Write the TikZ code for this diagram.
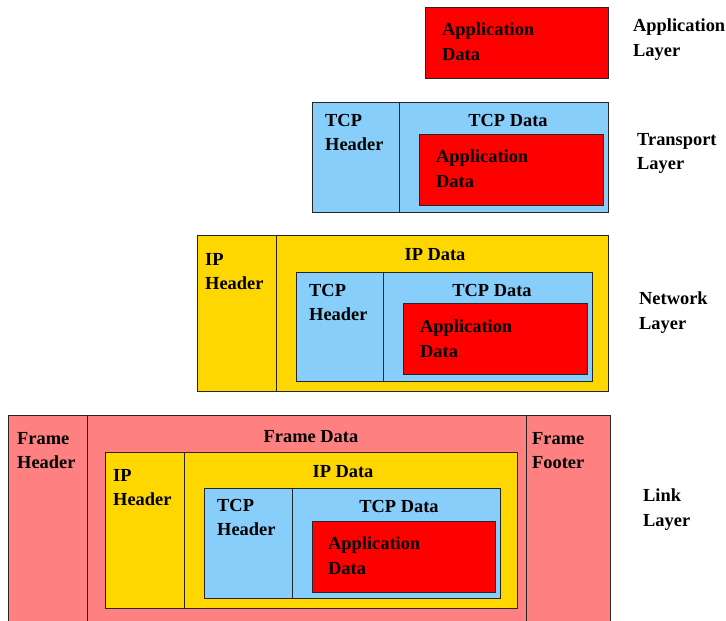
\documentclass[tikz,border=0pt]{standalone}
\usepackage{fontspec}
\setmainfont{Liberation Serif}
\definecolor{appred}{RGB}{255,0,0}
\definecolor{tcpblue}{RGB}{135,206,250}
\definecolor{ipgold}{RGB}{255,215,0}
\definecolor{framepink}{RGB}{255,128,128}

\begin{document}
\begin{tikzpicture}[x=1pt,y=-1pt,
    box/.style={draw=black!85, line width=0.9pt},
    lbl/.style={inner sep=0pt, align=left, anchor=north west,
        font=\bfseries\fontsize{18.4}{24.5}\selectfont},
    ctr/.style={lbl, anchor=north, align=center}]
    \clip (0,0) rectangle (726,621);

    % application layer
    \draw[box, fill=appred] (425,7) rectangle (608,78);
    \node[lbl] (appA) at (442,23) {Application\\Data};
    \node[lbl] (appLayer) at (633,19) {Application\\Layer};

    % transport layer
    \draw[box, fill=tcpblue] (312,102) rectangle (608,212);
    \draw[box] (399,102) -- (399,212);
    \node[lbl] (tcphT) at (325,114) {TCP\\Header};
    \node[ctr] (tcpdT) at (508,114) {TCP Data};
    \draw[box, fill=appred] (419,134) rectangle (603,205);
    \node[lbl] (appT) at (436,150) {Application\\Data};
    \node[lbl] (transLayer) at (637,133) {Transport\\Layer};

    % network layer
    \draw[box, fill=ipgold] (197,235) rectangle (608,391);
    \draw[box] (276,235) -- (276,391);
    \node[lbl] (iphN) at (205,253) {IP\\Header};
    \node[ctr] (ipdN) at (435,248) {IP Data};
    \draw[box, fill=tcpblue] (296,272) rectangle (592,381);
    \draw[box] (383,272) -- (383,381);
    \node[lbl] (tcphN) at (309,284) {TCP\\Header};
    \node[ctr] (tcpdN) at (492,284) {TCP Data};
    \draw[box, fill=appred] (403,303) rectangle (587,374);
    \node[lbl] (appN) at (420,320) {Application\\Data};
    \node[lbl] (netLayer) at (639,292) {Network\\Layer};

    % link layer
    \draw[box, fill=framepink] (8,415) rectangle (610,630);
    \draw[box] (87,415) -- (87,630);
    \draw[box] (526,415) -- (526,630);
    \node[lbl] (frhL) at (17,432) {Frame\\Header};
    \node[ctr] (frdL) at (311,430) {Frame Data};
    \node[lbl] (frfL) at (532,432) {Frame\\Footer};
    \draw[box, fill=ipgold] (105,452) rectangle (517,608);
    \draw[box] (184,452) -- (184,608);
    \node[lbl] (iphL) at (113,469) {IP\\Header};
    \node[ctr] (ipdL) at (343,465) {IP Data};
    \draw[box, fill=tcpblue] (204,488) rectangle (500,598);
    \draw[box] (292,488) -- (292,598);
    \node[lbl] (tcphL) at (217,499) {TCP\\Header};
    \node[ctr] (tcpdL) at (399,500) {TCP Data};
    \draw[box, fill=appred] (312,521) rectangle (495,592);
    \node[lbl] (appL) at (328,537) {Application\\Data};
    \node[lbl] (linkLayer) at (643,489) {Link\\Layer};
\end{tikzpicture}
\end{document}
